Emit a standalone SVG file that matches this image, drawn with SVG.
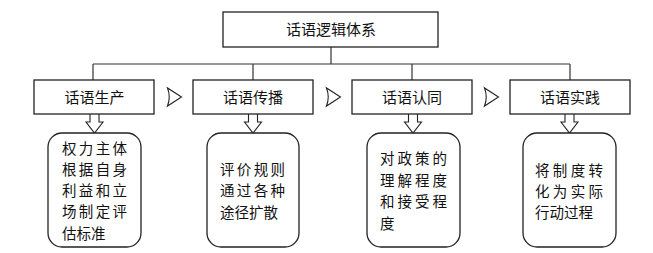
<svg xmlns="http://www.w3.org/2000/svg" width="653" height="253" viewBox="0 0 653 253">
<defs>
<style>
.box{fill:#fff;stroke:#222;stroke-width:1.3}
.ln{fill:none;stroke:#333;stroke-width:1.2}
.arr{fill:#fff;stroke:#222;stroke-width:1.1;stroke-linejoin:miter}
.tri{fill:#fff;stroke:#222;stroke-width:1.1}
text{font-family:"Noto Sans CJK SC","Liberation Serif",serif;fill:#111}
.lbl{font-size:15px;text-anchor:middle}
.body{font-size:14.5px}
</style>
<path id="harrow" d="M-4.5,0 V8 H-8.5 L0,19 L8.5,8 H4.5 V0"/>
<path id="tri" d="M-7,-9 Q-3.5,0 -7,9 L7,0 Z"/>
</defs>
<rect width="653" height="253" fill="#fff"/>
<g id="connectors">
<path class="ln" d="M331,47 V64 M93,64 H570 M93,64 V80 M253,64 V80 M412,64 V80 M570,64 V80"/>
<use href="#harrow" class="arr" x="94.5" y="114"/>
<use href="#harrow" class="arr" x="253" y="114"/>
<use href="#harrow" class="arr" x="413" y="114"/>
<use href="#harrow" class="arr" x="569.5" y="114"/>
<use href="#tri" class="tri" x="174.5" y="97"/>
<use href="#tri" class="tri" x="333.5" y="97"/>
<use href="#tri" class="tri" x="491.5" y="97"/>
</g>
<g id="root">
<rect class="box" x="223" y="12" width="215" height="35"/>
<text class="lbl" x="331" y="35">话语逻辑体系</text>
</g>
<g id="n1">
<rect class="box" x="34" y="80" width="120" height="34"/>
<text class="lbl" x="94.5" y="102.5">话语生产</text>
</g>
<g id="n2">
<rect class="box" x="193" y="80" width="120" height="34"/>
<text class="lbl" x="253" y="102.5">话语传播</text>
</g>
<g id="n3">
<rect class="box" x="352" y="80" width="120" height="34"/>
<text class="lbl" x="412" y="102.5">话语认同</text>
</g>
<g id="n4">
<rect class="box" x="510" y="80" width="120" height="34"/>
<text class="lbl" x="570" y="102.5">话语实践</text>
</g>
<g id="d1">
<rect class="box" x="48" y="133" width="93" height="114" rx="14"/>
<text class="body">
<tspan x="62" y="153.5" textLength="65" lengthAdjust="spacing">权力主体</tspan>
<tspan x="62" y="174.8" textLength="65" lengthAdjust="spacing">根据自身</tspan>
<tspan x="62" y="196.1" textLength="65" lengthAdjust="spacing">利益和立</tspan>
<tspan x="62" y="217.4" textLength="65" lengthAdjust="spacing">场制定评</tspan>
<tspan x="62" y="238.7">估标准</tspan>
</text>
</g>
<g id="d2">
<rect class="box" x="207" y="133" width="92" height="114" rx="14"/>
<text class="body">
<tspan x="220" y="175" textLength="65" lengthAdjust="spacing">评价规则</tspan>
<tspan x="220" y="196.3" textLength="65" lengthAdjust="spacing">通过各种</tspan>
<tspan x="220" y="217.6">途径扩散</tspan>
</text>
</g>
<g id="d3">
<rect class="box" x="367" y="133" width="93" height="114" rx="14"/>
<text class="body">
<tspan x="380" y="164" textLength="67" lengthAdjust="spacing">对政策的</tspan>
<tspan x="380" y="185.5" textLength="67" lengthAdjust="spacing">理解程度</tspan>
<tspan x="380" y="207" textLength="67" lengthAdjust="spacing">和接受程</tspan>
<tspan x="380" y="228.5">度</tspan>
</text>
</g>
<g id="d4">
<rect class="box" x="523" y="133" width="93" height="114" rx="14"/>
<text class="body">
<tspan x="535" y="175.5" textLength="68" lengthAdjust="spacing">将制度转</tspan>
<tspan x="535" y="196.5" textLength="68" lengthAdjust="spacing">化为实际</tspan>
<tspan x="535" y="217.5">行动过程</tspan>
</text>
</g>
</svg>
